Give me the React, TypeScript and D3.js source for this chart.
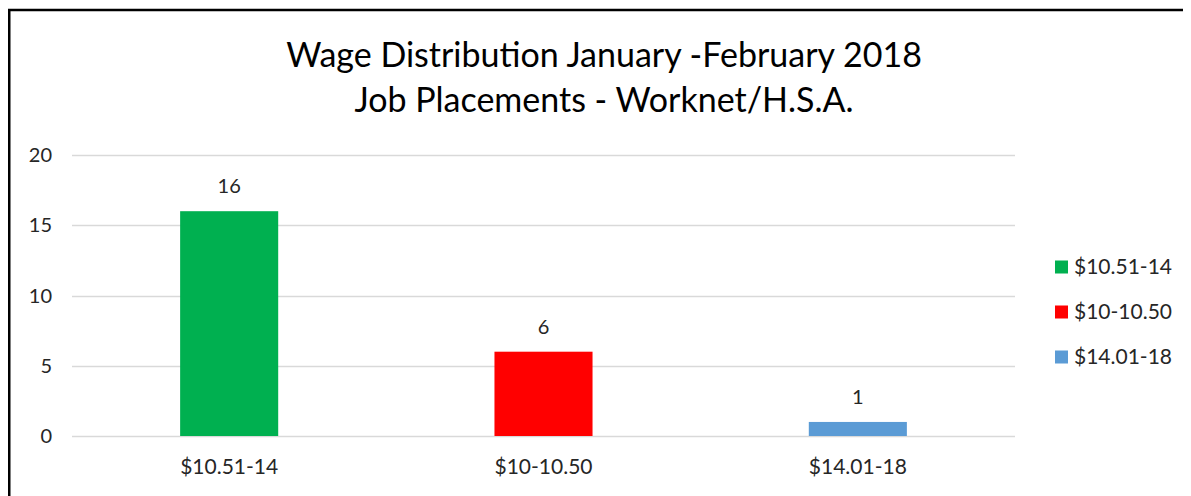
import React, { useEffect } from "react";
import * as d3 from "d3";

const categories = ["$10.51-14", "$10-10.50", "$14.01-18"];
const values = [16, 6, 1];
const colors = ["#00B050", "#FF0000", "#5B9BD5"];
const yTicks = [0, 5, 10, 15, 20];
const titleLines = ["Wage Distribution January -February 2018", "Job Placements - Worknet/H.S.A."];

const W = 1183;
const H = 488;
const OX = 8; // svg offset on page
const font = "Lato, 'Open Sans', sans-serif";
const textColor = "#262626";

export default function App() {
  useEffect(() => {
    document.documentElement.style.overflow = "hidden";
    document.body.style.overflow = "hidden";
  }, []);

  const x = d3
    .scaleBand<string>()
    .domain(categories)
    .range([72 - OX, 1015 - OX])
    .paddingInner(0.688)
    .paddingOuter(0.344);
  const y = d3.scaleLinear().domain([0, 20]).range([436 - OX, 155 - OX]);

  return (
    <div style={{ width: W, height: H, overflow: "hidden" }}>
      <svg width={W} height={H} style={{ display: "block" }}>
        <rect x={0} y={0} width={W} height={H} fill="#fff" />
        <path
          d={`M1.25,${H} L1.25,2 L${W},2`}
          fill="none"
          stroke="#000"
          strokeWidth={2.5}
        />
        {titleLines.map((t, i) => (
          <text
            key={i}
            x={604 - OX}
            y={67 - OX + i * 45}
            textAnchor="middle"
            fontFamily={font}
            fontSize={34}
            fill="#000"
          >
            {t}
          </text>
        ))}
        {yTicks.map((t) => (
          <g key={t}>
            <line
              x1={72 - OX}
              x2={1015 - OX}
              y1={Math.round(y(t)) + 0.5}
              y2={Math.round(y(t)) + 0.5}
              stroke="#d9d9d9"
              strokeWidth={1.5}
            />
            <text
              x={52 - OX}
              y={y(t)}
              dy="0.35em"
              textAnchor="end"
              fontFamily={font}
              fontSize={20}
              fill={textColor}
            >
              {t}
            </text>
          </g>
        ))}
        {categories.map((c, i) => (
          <g key={c}>
            <rect
              x={x(c)}
              y={y(values[i])}
              width={x.bandwidth()}
              height={y(0) - y(values[i])}
              fill={colors[i]}
            />
            <text
              x={(x(c) as number) + x.bandwidth() / 2}
              y={y(values[i]) - 25}
              dy="0.35em"
              textAnchor="middle"
              fontFamily={font}
              fontSize={20}
              fill={textColor}
            >
              {values[i]}
            </text>
            <text
              x={(x(c) as number) + x.bandwidth() / 2}
              y={467 - OX}
              dy="0.35em"
              textAnchor="middle"
              fontFamily={font}
              fontSize={21}
              fill={textColor}
            >
              {c}
            </text>
          </g>
        ))}
        {categories.map((c, i) => (
          <g key={"lg" + c} transform={`translate(${1055 - OX},${267 - OX + i * 45})`}>
            <rect x={0} y={-6.5} width={13} height={13} fill={colors[i]} />
            <text x={19} y={0} dy="0.35em" fontFamily={font} fontSize={21} fill={textColor}>
              {c}
            </text>
          </g>
        ))}
      </svg>
    </div>
  );
}
